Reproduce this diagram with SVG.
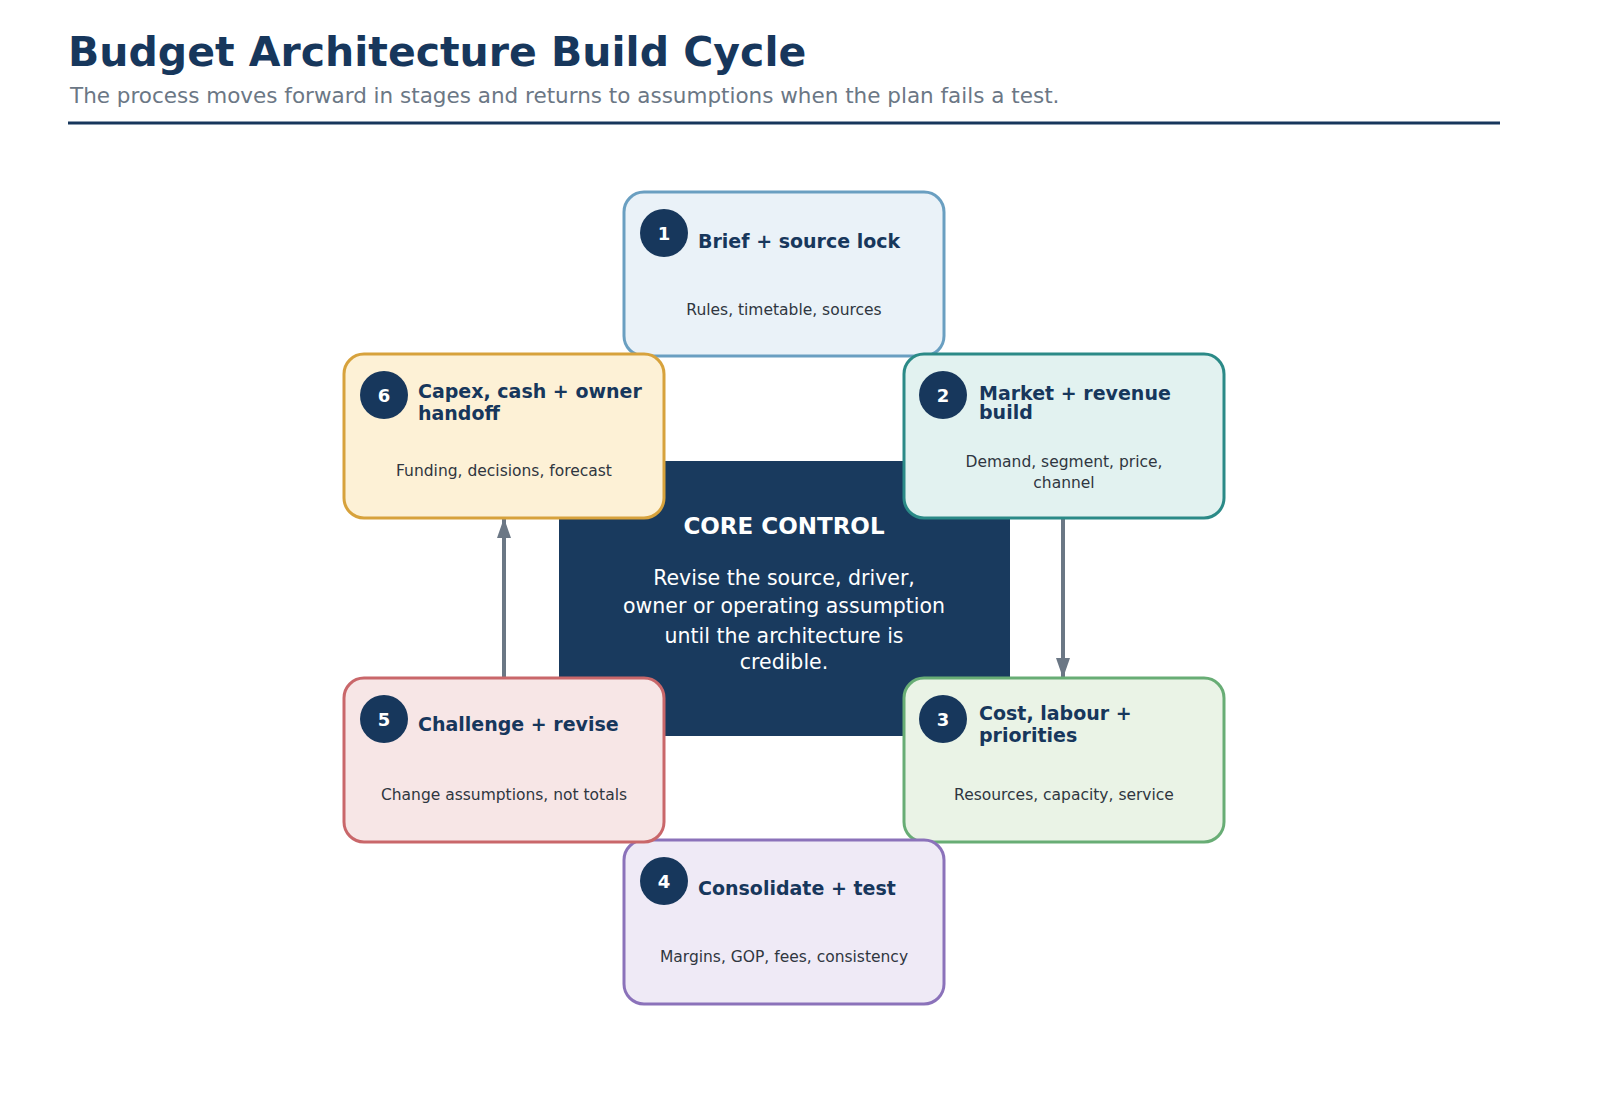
<svg xmlns="http://www.w3.org/2000/svg" width="1600" height="1100" viewBox="0 0 1600 1100">
<style>
text{font-family:"DejaVu Sans",sans-serif}
.box{stroke-width:3}
.num{fill:#17375c}
.numt{fill:#fff;font-weight:bold;font-size:18px;text-anchor:middle}
.tt{fill:#17375c;font-weight:bold;font-size:19px}
.st{fill:#2f3640;font-size:15.5px;text-anchor:middle}
.ct{fill:#fff;text-anchor:middle}
</style>
<defs>
<marker id="ah" viewBox="0 0 10 10" refX="10" refY="5" markerWidth="5" markerHeight="3.5" orient="auto" markerUnits="strokeWidth" preserveAspectRatio="none"><path d="M0,0L10,5L0,10Z" fill="#6b7785"/></marker>
</defs>
<rect width="1600" height="1100" fill="#fff"/>
<text x="68" y="66" font-size="41" font-weight="bold" fill="#17375c">Budget Architecture Build Cycle</text>
<text x="70" y="103" font-size="21.5" fill="#6b7785">The process moves forward in stages and returns to assumptions when the plan fails a test.</text>
<line x1="68" y1="123" x2="1500" y2="123" stroke="#17375c" stroke-width="3"/>
<g id="core"><rect x="559" y="461" width="451" height="275" fill="#193a5e"/>
<text class="ct" x="784" y="534" font-size="23" font-weight="bold">CORE CONTROL</text>
<text class="ct" x="784" y="585" font-size="20.5">Revise the source, driver,</text>
<text class="ct" x="784" y="613" font-size="20.5">owner or operating assumption</text>
<text class="ct" x="784" y="643" font-size="20.5">until the architecture is</text>
<text class="ct" x="784" y="669" font-size="20.5">credible.</text></g>
<g id="connectors" stroke="#6b7785" stroke-width="4" fill="none">
<line x1="504" y1="678" x2="504" y2="518" marker-end="url(#ah)"/>
<line x1="1063" y1="518" x2="1063" y2="678" marker-end="url(#ah)"/>
</g>
<g id="n1"><rect class="box" x="624" y="192" width="320" height="164" rx="20" fill="#eaf2f8" stroke="#6a9fc1"/>
<circle class="num" cx="664" cy="233" r="24"/><text class="numt" x="664" y="240">1</text>
<text class="tt" x="698" y="248">Brief + source lock</text>
<text class="st" x="784" y="315">Rules, timetable, sources</text></g>
<g id="n2"><rect class="box" x="904" y="354" width="320" height="164" rx="20" fill="#e2f2f0" stroke="#2b8a87"/>
<circle class="num" cx="943" cy="395" r="24"/><text class="numt" x="943" y="402">2</text>
<text class="tt" x="979" y="400">Market + revenue</text><text class="tt" x="979" y="419">build</text>
<text class="st" x="1064" y="467">Demand, segment, price,</text><text class="st" x="1064" y="488">channel</text></g>
<g id="n3"><rect class="box" x="904" y="678" width="320" height="164" rx="20" fill="#eaf3e6" stroke="#68ad75"/>
<circle class="num" cx="943" cy="719" r="24"/><text class="numt" x="943" y="726">3</text>
<text class="tt" x="979" y="720">Cost, labour +</text><text class="tt" x="979" y="742">priorities</text>
<text class="st" x="1064" y="800">Resources, capacity, service</text></g>
<g id="n4"><rect class="box" x="624" y="840" width="320" height="164" rx="20" fill="#efeaf6" stroke="#8b72ba"/>
<circle class="num" cx="664" cy="881" r="24"/><text class="numt" x="664" y="888">4</text>
<text class="tt" x="698" y="895">Consolidate + test</text>
<text class="st" x="784" y="962">Margins, GOP, fees, consistency</text></g>
<g id="n5"><rect class="box" x="344" y="678" width="320" height="164" rx="20" fill="#f7e6e6" stroke="#c9676a"/>
<circle class="num" cx="384" cy="719" r="24"/><text class="numt" x="384" y="726">5</text>
<text class="tt" x="418" y="731">Challenge + revise</text>
<text class="st" x="504" y="800">Change assumptions, not totals</text></g>
<g id="n6"><rect class="box" x="344" y="354" width="320" height="164" rx="20" fill="#fdf1d6" stroke="#d7a23c"/>
<circle class="num" cx="384" cy="395" r="24"/><text class="numt" x="384" y="402">6</text>
<text class="tt" x="418" y="398">Capex, cash + owner</text><text class="tt" x="418" y="420">handoff</text>
<text class="st" x="504" y="476">Funding, decisions, forecast</text></g>
</svg>
